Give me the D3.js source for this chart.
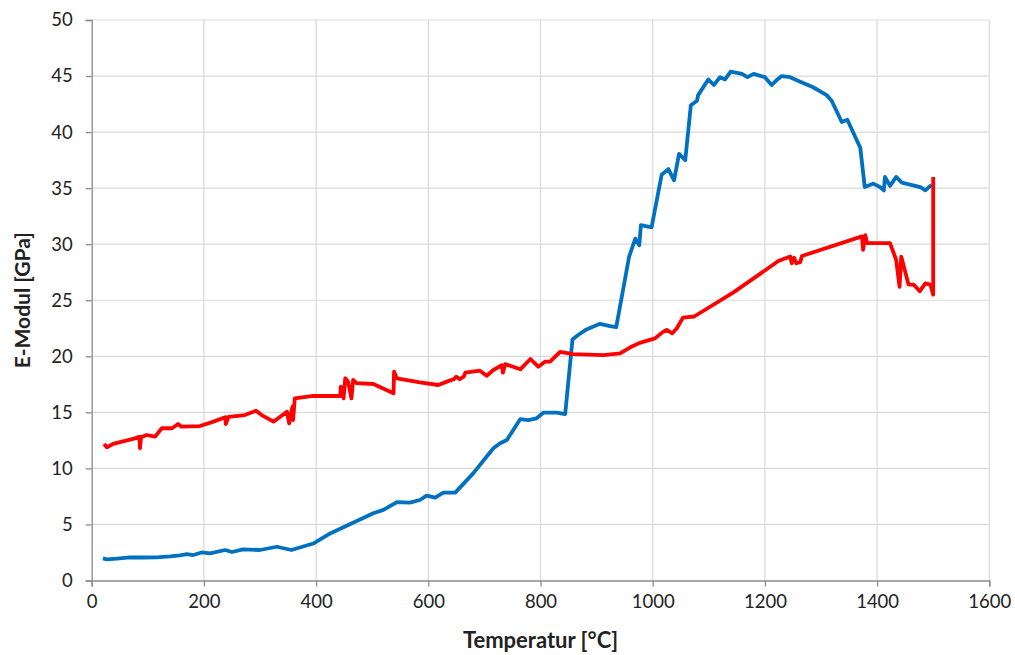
<!DOCTYPE html>
<html>
<head>
<meta charset="utf-8">
<script src="https://cdn.jsdelivr.net/npm/d3@7"></script>
<style>
  body { margin: 0; background: #fff; }
  svg text { font-family: Lato, "Open Sans", sans-serif; fill: #222; }
</style>
</head>
<body>
<svg id="chart" width="1015" height="655"></svg>
<script>
// probe 1 (blue)
const blueT = [20,27,45,68,90,116,140,157,170,181,196,211,238,250,270,300,330,356,395,425,502,520,544,567,585,597,612,627,648,680,716,728,740,764,778,793,805,829,844,857,867,882,906,924,935,958,969,976,979,998,1016,1028,1038,1047,1058,1068,1079,1081,1099,1109,1120,1129,1139,1159,1169,1180,1200,1212,1220,1230,1245,1263,1286,1310,1319,1337,1347,1370,1378,1393,1405,1412,1414,1423,1434,1444,1477,1486,1497];
const blueE = [1.98,1.89,1.95,2.07,2.05,2.07,2.15,2.25,2.35,2.27,2.5,2.42,2.72,2.54,2.78,2.72,3.01,2.72,3.3,4.2,6.0,6.3,7.0,6.94,7.18,7.57,7.39,7.84,7.84,9.56,11.8,12.24,12.53,14.4,14.3,14.47,14.97,14.97,14.85,21.5,21.9,22.4,22.9,22.7,22.6,28.9,30.5,29.9,31.7,31.5,36.2,36.7,35.7,38.05,37.5,42.4,42.8,43.3,44.7,44.2,44.9,44.7,45.4,45.2,44.9,45.2,44.9,44.2,44.6,45.0,44.9,44.5,44.0,43.3,42.8,40.9,41.1,38.6,35.1,35.4,35.1,34.8,36.0,35.2,36.0,35.5,35.1,34.8,35.3];

// probe 2 (red)
const redT = [22,27,38,65,77,85,86,88,98,113,125,143,154,160,193,217,238,239,244,273,293,303,324,348,352,355,358,359,362,395,443,444,449,452,457,463,466,472,502,538,539,544,585,618,633,645,650,656,663,666,692,704,716,731,733,737,764,782,796,808,817,835,858,912,942,960,977,1004,1019,1025,1035,1043,1054,1074,1144,1224,1245,1248,1252,1256,1263,1266,1373,1375,1379,1382,1423,1434,1440,1443,1456,1465,1476,1486,1495,1500,1500];
const redE = [12.18,11.88,12.18,12.53,12.68,12.83,11.8,12.77,12.98,12.83,13.58,13.58,13.96,13.72,13.78,14.17,14.56,13.96,14.6,14.76,15.15,14.76,14.17,15.06,14.02,14.91,15.5,14.3,16.25,16.46,16.46,17.3,16.25,18.04,17.74,16.25,17.89,17.6,17.53,16.7,18.63,18.04,17.68,17.44,17.74,17.95,18.18,17.95,18.18,18.54,18.72,18.27,18.78,19.2,18.54,19.3,18.84,19.76,19.07,19.52,19.52,20.4,20.2,20.1,20.27,20.8,21.2,21.6,22.2,22.35,22.05,22.5,23.45,23.55,25.7,28.5,28.9,28.3,28.8,28.3,28.4,28.95,30.7,29.5,30.8,30.1,30.1,28.6,26.2,28.9,26.4,26.4,25.8,26.5,26.4,25.5,36.0];

const xTicks = [0,200,400,600,800,1000,1200,1400,1600];
const yTicks = [0,5,10,15,20,25,30,35,40,45,50];

const svg = d3.select("#chart");
const mLeft = 91.7, mRight = 989.3, mTop = 20, mBottom = 580.5;

const x = d3.scaleLinear().domain([0,1600]).range([mLeft,mRight]);
const y = d3.scaleLinear().domain([0,50]).range([mBottom,mTop]);

// grid
svg.append("g").selectAll("line").data(yTicks.slice(1)).join("line")
  .attr("x1",mLeft).attr("x2",mRight)
  .attr("y1",d=>y(d)).attr("y2",d=>y(d))
  .attr("stroke","#d9d9d9").attr("stroke-width",1.2);
svg.append("g").selectAll("line").data(xTicks.slice(1)).join("line")
  .attr("x1",d=>x(d)).attr("x2",d=>x(d))
  .attr("y1",mTop).attr("y2",mBottom)
  .attr("stroke","#d9d9d9").attr("stroke-width",1.2);

// axes
let xAxis = svg.append("g").attr("transform",`translate(0,${mBottom})`)
  .call(d3.axisBottom(x).tickValues(xTicks).tickFormat(d3.format("d")).tickSize(6).tickPadding(8));
let yAxis = svg.append("g").attr("transform",`translate(${mLeft},0)`)
  .call(d3.axisLeft(y).tickValues(yTicks).tickFormat(d3.format("d")).tickSize(6).tickPadding(13));
[xAxis,yAxis].forEach(a=>{
  a.select(".domain").attr("stroke","#8c8c8c").attr("stroke-width",1.3);
  a.selectAll(".tick line").attr("stroke","#8c8c8c").attr("stroke-width",1.3);
  a.selectAll(".tick text").style("font-size","18.5px").attr("fill","#222");
});

// lines
let line = d3.line().x(d=>x(d[0])).y(d=>y(d[1]));
svg.append("path").datum(blueT.map((t,i)=>[t,blueE[i]]))
  .attr("d",line).attr("fill","none").attr("stroke","#0070C0")
  .attr("stroke-width",3.8).attr("stroke-linejoin","round");
svg.append("path").datum(redT.map((t,i)=>[t,redE[i]]))
  .attr("d",line).attr("fill","none").attr("stroke","#FF0000")
  .attr("stroke-width",3.8).attr("stroke-linejoin","round");

// titles
svg.append("text").attr("x",(mLeft+mRight)/2).attr("y",648)
  .attr("text-anchor","middle").style("font-size","22px").style("font-weight","bold")
  .attr("fill","#111").text("Temperatur [°C]");
svg.append("text").attr("transform",`translate(30,${(mTop+mBottom)/2}) rotate(-90)`)
  .attr("text-anchor","middle").style("font-size","21px").style("font-weight","bold")
  .attr("fill","#111").text("E-Modul [GPa]");
</script>
</body>
</html>
